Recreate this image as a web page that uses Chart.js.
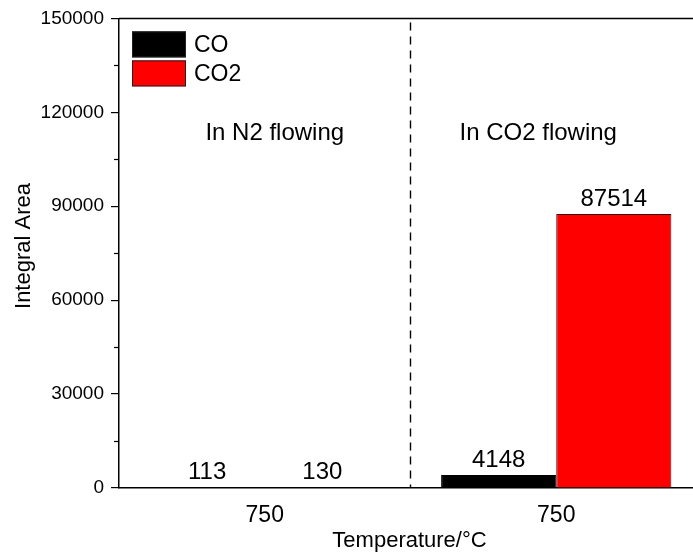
<!DOCTYPE html>
<html>
<head>
<meta charset="utf-8">
<script src="https://cdn.jsdelivr.net/npm/chart.js@4/dist/chart.umd.min.js"></script>
<style>
  html, body { margin: 0; padding: 0; background: #fff; overflow: hidden; }
  #wrap { width: 693px; height: 556px; overflow: hidden; position: relative; }
  canvas { display: block; }
</style>
</head>
<body>
<div id="wrap"><canvas id="c" width="708" height="556"></canvas></div>
<script>
// ---- data ----
const categories = ['750', '750'];
const seriesNames = ['CO', 'CO2'];
const coValues = [113, 4148];
const co2Values = [130, 87514];
const yTickValues = [0, 30000, 60000, 90000, 120000, 150000];
const yMinorTickValues = [15000, 45000, 75000, 105000, 135000];
const regionLabels = ['In N2 flowing', 'In CO2 flowing'];
const xAxisTitle = 'Temperature/\u00B0C';
const yAxisTitle = 'Integral Area';

const FONT = 'Arial, "Liberation Sans", sans-serif';

const extras = {
  id: 'extras',
  afterDatasetsDraw(chart) {
    const ctx = chart.ctx;
    const ca = chart.chartArea;
    const x = chart.scales.x, y = chart.scales.y;
    ctx.save();
    // top border
    ctx.strokeStyle = '#000';
    ctx.lineWidth = 1.5;
    ctx.beginPath();
    ctx.moveTo(ca.left, ca.top);
    ctx.lineTo(ca.right, ca.top);
    ctx.stroke();
    // minor ticks
    ctx.lineWidth = 1.2;
    yMinorTickValues.forEach(v => {
      const py = Math.round(y.getPixelForValue(v)) + 0.5;
      ctx.beginPath();
      ctx.moveTo(ca.left - 5, py);
      ctx.lineTo(ca.left, py);
      ctx.stroke();
    });
    // dashed separator
    const xm = (x.getPixelForValue(0) + x.getPixelForValue(1)) / 2;
    ctx.setLineDash([8, 6]);
    ctx.lineWidth = 1.4;
    ctx.beginPath();
    ctx.moveTo(xm, ca.top + 4);
    ctx.lineTo(xm, ca.bottom);
    ctx.stroke();
    ctx.setLineDash([]);
    // region labels
    ctx.fillStyle = '#000';
    ctx.font = '24px ' + FONT;
    ctx.textAlign = 'center';
    ctx.textBaseline = 'alphabetic';
    ctx.fillText(regionLabels[0], x.getPixelForValue(0) + 10, ca.top + 122);
    ctx.fillText(regionLabels[1], x.getPixelForValue(1) - 18, ca.top + 122);
    // value labels
    ctx.textBaseline = 'bottom';
    chart.data.datasets.forEach((ds, di) => {
      const meta = chart.getDatasetMeta(di);
      meta.data.forEach((bar, i) => {
        ctx.fillText(String(ds.data[i]), bar.x, bar.y - 3);
      });
    });
    // legend
    ctx.font = '23px ' + FONT;
    const lx = ca.left + 13, ly = ca.top + 13, bw = 54, bh = 26, gap = 3;
    ctx.textBaseline = 'middle';
    ctx.textAlign = 'left';
    chart.data.datasets.forEach((ds, di) => {
      const by = ly + di * (bh + gap);
      ctx.fillStyle = ds.backgroundColor;
      ctx.fillRect(lx, by, bw, bh);
      ctx.strokeStyle = '#222';
      ctx.lineWidth = 1;
      ctx.strokeRect(lx + 0.5, by + 0.5, bw - 1, bh - 1);
      ctx.fillStyle = '#000';
      ctx.fillText(ds.label, lx + bw + 8, by + bh / 2 + 1);
    });
    // axis titles
    ctx.font = '22px ' + FONT;
    ctx.textAlign = 'center';
    ctx.textBaseline = 'alphabetic';
    ctx.fillText(xAxisTitle, (ca.left + ca.right) / 2 - 1, 547);
    ctx.save();
    ctx.translate(30, 246);
    ctx.rotate(-Math.PI / 2);
    ctx.fillText(yAxisTitle, 0, 0);
    ctx.restore();
    ctx.restore();
  }
};

new Chart(document.getElementById('c'), {
  type: 'bar',
  data: {
    labels: categories,
    datasets: [
      { label: seriesNames[0], data: coValues, backgroundColor: '#000000', borderColor: '#000000', borderWidth: 1 },
      { label: seriesNames[1], data: co2Values, backgroundColor: '#ff0000', borderColor: '#3a0000', borderWidth: 1 }
    ]
  },
  options: {
    responsive: false,
    animation: false,
    devicePixelRatio: 1,
    layout: { padding: { top: 18, right: 6, left: 0, bottom: 0 } },
    datasets: { bar: { categoryPercentage: 0.79, barPercentage: 1.0 } },
    plugins: { legend: { display: false }, tooltip: { enabled: false } },
    scales: {
      x: {
        type: 'category',
        offset: true,
        grid: { display: false },
        border: { display: true, color: '#000', width: 1.5 },
        ticks: { color: '#000', font: { size: 23, family: FONT }, padding: 6, maxRotation: 0 },
        afterFit(s) { s.height = 68; }
      },
      y: {
        min: 0, max: 150000,
        afterBuildTicks(s) { s.ticks = yTickValues.map(v => ({ value: v })); },
        grid: { drawOnChartArea: false, drawTicks: true, tickLength: 8, color: '#000', lineWidth: 1.2 },
        border: { display: true, color: '#000', width: 1.5 },
        ticks: { color: '#000', font: { size: 19, family: FONT }, padding: 7, callback: v => String(v) },
        afterFit(s) { s.width = 119; }
      }
    }
  },
  plugins: [extras]
});
</script>
</body>
</html>
